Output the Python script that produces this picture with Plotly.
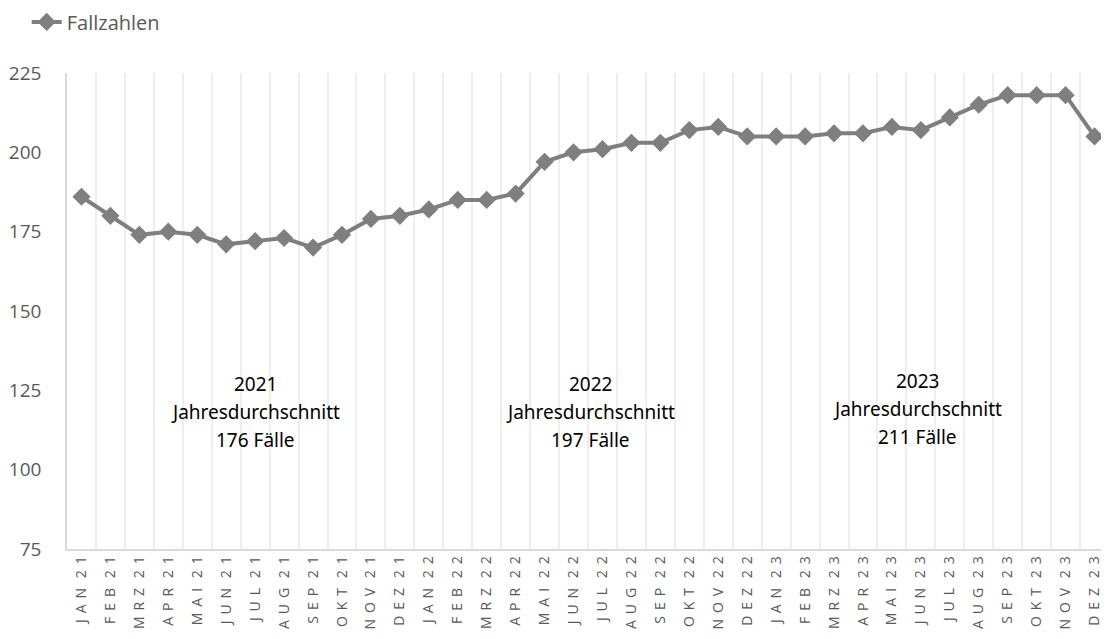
import plotly.graph_objects as go

months = ["JAN", "FEB", "MRZ", "APR", "MAI", "JUN", "JUL", "AUG", "SEP", "OKT", "NOV", "DEZ"]
years = ["21", "22", "23"]
categories = [f"{m} {y}" for y in years for m in months]
values = [186, 180, 174, 175, 174, 171, 172, 173, 170, 174, 179, 180,
          182, 185, 185, 187, 197, 200, 201, 203, 203, 207, 208, 205,
          205, 205, 206, 206, 208, 207, 211, 215, 218, 218, 218, 205]
ytick_vals = [75, 100, 125, 150, 175, 200, 225]

annot_lines = [["2021", "Jahresdurchschnitt", "176 Fälle"],
               ["2022", "Jahresdurchschnitt", "197 Fälle"],
               ["2023", "Jahresdurchschnitt", "211 Fälle"]]
annot_x = [6.0, 17.6, 28.9]
annot_y = [118.2, 118.2, 119.2]


def spaced(label):
    m, y = label.split(" ")
    sep = " \u2009"
    return sep.join(m) + "\u00a0\u00a0\u2009" + sep.join(y)

tick_text = [spaced(c) for c in categories]

fig = go.Figure()
fig.add_trace(go.Scatter(
    x=categories, y=values, mode="lines+markers", name="Fallzahlen",
    line=dict(color="#7f7f7f", width=4),
    marker=dict(symbol="diamond", size=14, color="#7f7f7f"),
))

for lines, x, y in zip(annot_lines, annot_x, annot_y):
    for i, t in enumerate(lines):
        fig.add_annotation(x=x, y=y, xref="x", yref="y", text=t, showarrow=False,
                           yshift=(1 - i) * 28,
                           font=dict(family="Noto Sans", size=19, color="#000000"),
                           align="center")

fig.update_layout(
    width=1101, height=631,
    margin=dict(l=59, r=0, t=65, b=90),
    paper_bgcolor="white", plot_bgcolor="white",
    showlegend=True,
    legend=dict(xref="container", yref="container", x=0.017, y=0.978,
                xanchor="left", yanchor="middle", orientation="h",
                font=dict(family="Open Sans", size=20, color="#595959")),
    xaxis=dict(
        type="category", tickmode="array", tickvals=categories, ticktext=tick_text,
        tickangle=-90, tickson="boundaries", showgrid=True, gridcolor="#eeeeee", gridwidth=1.5,
        showline=True, linecolor="#d9d9d9", linewidth=1.5, ticks="",
        tickfont=dict(family="Open Sans", size=14, color="#595959"),
        range=[-0.5, 35.5], automargin=False,
    ),
    yaxis=dict(
        range=[75, 225], tickvals=ytick_vals, showgrid=False, zeroline=False,
        showline=True, linecolor="#d9d9d9", linewidth=1.5, ticks="",
        tickfont=dict(family="Open Sans", size=19, color="#595959"),
        ticklabelstandoff=20, automargin=False,
    ),
)

fig.write_html("out.html")
